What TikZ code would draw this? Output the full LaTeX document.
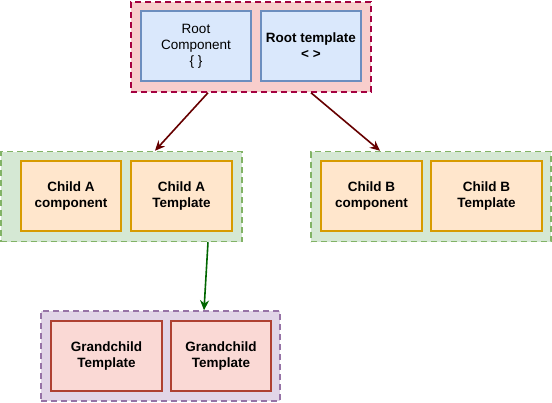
\documentclass[tikz,border=0pt]{standalone}
\usepackage{fontspec}
\setmainfont{Liberation Sans}
\usepackage{xcolor}
\usetikzlibrary{calc, arrows.meta}
\definecolor{blueFill}{HTML}{DAE8FC}
\definecolor{blueLine}{HTML}{6C8EBF}
\definecolor{redFill}{HTML}{F8CECC}
\definecolor{redLine}{HTML}{A50040}
\definecolor{greenFill}{HTML}{D5E8D4}
\definecolor{greenLine}{HTML}{82B366}
\definecolor{orangeFill}{HTML}{FFE6CC}
\definecolor{orangeLine}{HTML}{D79B00}
\definecolor{purpleFill}{HTML}{E1D5E7}
\definecolor{purpleLine}{HTML}{9673A6}
\definecolor{gcFill}{HTML}{FAD9D5}
\definecolor{gcLine}{HTML}{AE4132}
\definecolor{darkRed}{HTML}{660000}
\definecolor{darkGreen}{HTML}{006600}

\begin{document}
\begin{tikzpicture}[x=1pt, y=-1pt,
    group/.style={draw, line width=1.5pt, dash pattern=on 6pt off 4pt, minimum height=90pt, inner sep=0pt},
    box/.style={draw, line width=1.4pt, minimum height=70pt, inner sep=0pt, align=center,
        font=\fontsize{13.5}{16}\selectfont\bfseries},
    link/.style={line width=1.6pt, -{Stealth[length=10pt, width=9pt]}}]
    \useasboundingbox (0,0) rectangle (552,402);
    % root
    \node[group, fill=redFill, draw=redLine, minimum width=240pt] (root) at (251,47) {};
    \node[box, fill=blueFill, draw=blueLine, minimum width=110pt, font=\fontsize{13.5}{16}\selectfont]
        (rootcomp) at (196,46) {Root\\Component\\\{ \}};
    \node[box, fill=blueFill, draw=blueLine, minimum width=100pt] (roottpl) at (311,46) {Root template\\< >};
    % child A
    \node[group, fill=greenFill, draw=greenLine, minimum width=241pt] (childA) at (121.5,196.5) {};
    \node[box, fill=orangeFill, draw=orangeLine, minimum width=100pt] (childAcomp) at (71,196) {Child A\\component};
    \node[box, fill=orangeFill, draw=orangeLine, minimum width=101pt] (childAtpl) at (181.5,196) {Child A\\Template};
    % child B
    \node[group, fill=greenFill, draw=greenLine, minimum width=240pt] (childB) at (431,196.5) {};
    \node[box, fill=orangeFill, draw=orangeLine, minimum width=101pt] (childBcomp) at (371.5,196) {Child B\\component};
    \node[box, fill=orangeFill, draw=orangeLine, minimum width=111pt] (childBtpl) at (486.5,196) {Child B\\Template};
    % grandchild
    \node[group, fill=purpleFill, draw=purpleLine, minimum width=239pt] (gc) at (160.5,356) {};
    \node[box, fill=gcFill, draw=gcLine, minimum width=111pt] (gcone) at (106.5,356) {Grandchild\\Template};
    \node[box, fill=gcFill, draw=gcLine, minimum width=100pt] (gctwo) at (221,356) {Grandchild\\Template};
    % arrows
    \draw[link, darkRed] ([xshift=-43pt]root.south) -- ([xshift=33.5pt]childA.north);
    \draw[link, darkRed] ([xshift=60pt]root.south) -- ([xshift=-51pt]childB.north);
    \draw[link, darkGreen] ([xshift=86.5pt]childA.south) -- ([xshift=43.5pt]gc.north);
\end{tikzpicture}
\end{document}
